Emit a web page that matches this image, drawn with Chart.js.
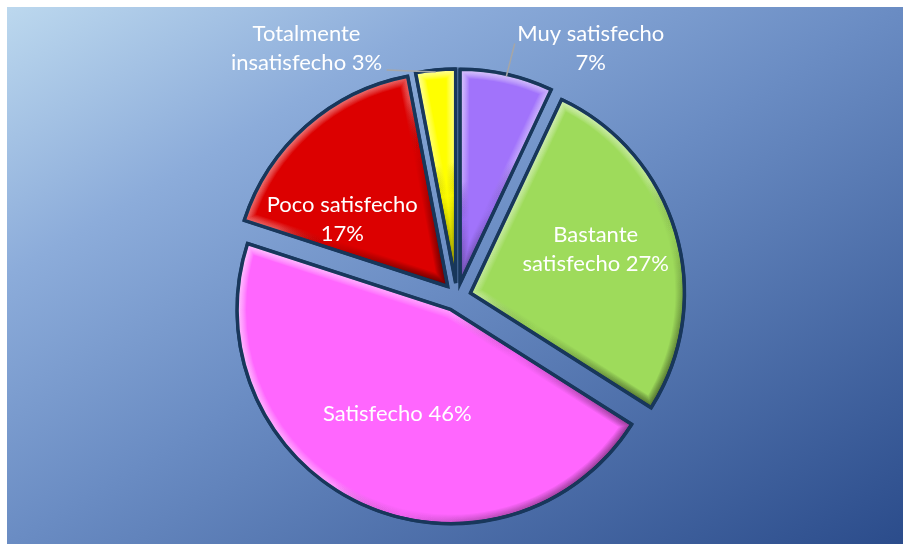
<!DOCTYPE html>
<html><head><meta charset="utf-8">
<style>html,body{margin:0;padding:0;background:#fff;}#wrap{width:907px;height:544px;}</style>
<script src="https://cdn.jsdelivr.net/npm/chart.js@4/dist/chart.umd.min.js"></script>
</head><body><div id="wrap"><canvas id="c" width="907" height="544"></canvas></div>
<script>
// ---- data ----
const categories = ["Muy satisfecho", "Bastante satisfecho", "Satisfecho", "Poco satisfecho", "Totalmente insatisfecho"];
const percentages = [7, 27, 46, 17, 3];
const sliceColors = ["#a173fb", "#9edb5b", "#ff66fe", "#dc0000", "#ffff00"];

// ---- style ----
const EXPLODE = 14;          // px each slice is pulled out
const RADIUS = 214;
const BORDER = "#18375b";
const FONT = "22px Lato, 'Open Sans', sans-serif";
const LINE_H = 29;
const WRAP_W = 165;
// label placement: inside labels -> {frac, dAng}; outside -> {out:true, dx, dy, lx, ly}
const labelPlace = [
  {out: true, dx: 84, dy: -26, lx: -76, ly: -5},
  {frac: 0.62, dAng: -3},
  {frac: 0.55, dAng: 2},
  {frac: 0.585, dAng: -16},
  {out: true, dx: -129, dy: -22, lx: 80, ly: 22}
];

function wrapText(ctx, text, maxW) {
  const words = text.split(" "); const lines = []; let cur = "";
  for (const w of words) {
    const t = cur ? cur + " " + w : w;
    if (cur && ctx.measureText(t).width > maxW) { lines.push(cur); cur = w; } else cur = t;
  }
  if (cur) lines.push(cur);
  return lines;
}
function sliceGeom(arc) {
  const half = (arc.startAngle + arc.endAngle) / 2;
  return {cx: arc.x, cy: arc.y, r: arc.outerRadius, s: arc.startAngle, e: arc.endAngle, half};
}
function slicePath(ctx, g) {
  ctx.beginPath(); ctx.moveTo(g.cx, g.cy); ctx.arc(g.cx, g.cy, g.r, g.s, g.e); ctx.closePath();
}

// pull each slice out along its bisector (library arcs, moved centre)
const explodePlugin = {
  id: "explode",
  afterUpdate(chart) {
    chart.getDatasetMeta(0).data.forEach((arc) => {
      const half = (arc.startAngle + arc.endAngle) / 2;
      arc.x += Math.cos(half) * EXPLODE;
      arc.y += Math.sin(half) * EXPLODE;
    });
  }
};

const bgPlugin = {
  id: "bg",
  beforeDraw(chart) {
    const ctx = chart.ctx; const x0 = 7, y0 = 7, x1 = 903, y1 = 544; const W = x1 - x0, H = y1 - y0;
    const k = 2 * W * H / (W * W + H * H);
    const g = ctx.createLinearGradient(x0, y0, x0 + H * k, y0 + W * k);
    g.addColorStop(0, "#bcd8ee"); g.addColorStop(0.25, "#8cacda"); g.addColorStop(0.5, "#6a8cc3"); g.addColorStop(1, "#2b4c8b");
    ctx.save(); ctx.fillStyle = "#fff"; ctx.fillRect(0, 0, chart.width, chart.height);
    ctx.fillStyle = g; ctx.fillRect(x0, y0, W, H); ctx.restore();
  }
};

const bevelPlugin = {
  id: "bevel",
  afterDatasetsDraw(chart) {
    const ctx = chart.ctx;
    chart.getDatasetMeta(0).data.forEach((arc) => {
      const g = sliceGeom(arc);
      let minX = g.cx, maxX = g.cx, minY = g.cy, maxY = g.cy;
      for (let i = 0; i <= 40; i++) {
        const a = g.s + (g.e - g.s) * i / 40;
        const px = g.cx + Math.cos(a) * g.r, py = g.cy + Math.sin(a) * g.r;
        minX = Math.min(minX, px); maxX = Math.max(maxX, px); minY = Math.min(minY, py); maxY = Math.max(maxY, py);
      }
      ctx.save();
      slicePath(ctx, g); ctx.clip();
      const lg = ctx.createLinearGradient(minX, minY, maxX, maxY);
      lg.addColorStop(0, "rgba(255,255,255,0.6)");
      lg.addColorStop(0.45, "rgba(255,255,255,0.3)");
      lg.addColorStop(0.6, "rgba(0,0,0,0.05)");
      lg.addColorStop(1, "rgba(0,0,0,0.5)");
      ctx.strokeStyle = lg; ctx.lineJoin = "miter";
      for (let w = 18; w >= 4; w -= 2) { ctx.globalAlpha = 0.17; ctx.lineWidth = w; slicePath(ctx, g); ctx.stroke(); }
      ctx.restore();
      ctx.save(); slicePath(ctx, g); ctx.lineWidth = 3.5; ctx.strokeStyle = BORDER; ctx.lineJoin = "miter"; ctx.stroke(); ctx.restore();
    });
  }
};

const labelPlugin = {
  id: "labels",
  afterDraw(chart) {
    const ctx = chart.ctx;
    ctx.save(); ctx.font = FONT; ctx.fillStyle = "#fff"; ctx.textAlign = "center"; ctx.textBaseline = "middle";
    chart.getDatasetMeta(0).data.forEach((arc, i) => {
      const g = sliceGeom(arc); const p = labelPlace[i];
      const lines = wrapText(ctx, categories[i] + " " + percentages[i] + "%", WRAP_W);
      let lx, ly;
      if (p.out) {
        const ox = g.cx + Math.cos(g.half) * g.r, oy = g.cy + Math.sin(g.half) * g.r;
        lx = ox + p.dx; ly = oy + p.dy;
        ctx.save(); ctx.strokeStyle = "#a6a6a6"; ctx.lineWidth = 1.5; ctx.beginPath();
        ctx.moveTo(ox - Math.cos(g.half) * 2, oy - Math.sin(g.half) * 2); ctx.lineTo(lx + p.lx, ly + p.ly); ctx.stroke(); ctx.restore();
      } else {
        const a = g.half + p.dAng * Math.PI / 180;
        lx = g.cx + Math.cos(a) * g.r * p.frac; ly = g.cy + Math.sin(a) * g.r * p.frac;
      }
      const y0 = ly - (lines.length - 1) * LINE_H / 2;
      lines.forEach((t, k) => ctx.fillText(t, lx, y0 + k * LINE_H));
    });
    ctx.restore();
  }
};

new Chart(document.getElementById("c"), {
  type: "pie",
  data: {
    labels: categories,
    datasets: [{
      data: percentages,
      backgroundColor: sliceColors,
      borderColor: BORDER,
      borderWidth: 3,
      hoverOffset: 0
    }]
  },
  options: {
    responsive: false, animation: false, events: [],
    radius: RADIUS,
    layout: {padding: {left: 7, top: 50, right: 0, bottom: 0}},
    plugins: {legend: {display: false}, tooltip: {enabled: false}}
  },
  plugins: [explodePlugin, bgPlugin, bevelPlugin, labelPlugin]
});
</script>
</body></html>
